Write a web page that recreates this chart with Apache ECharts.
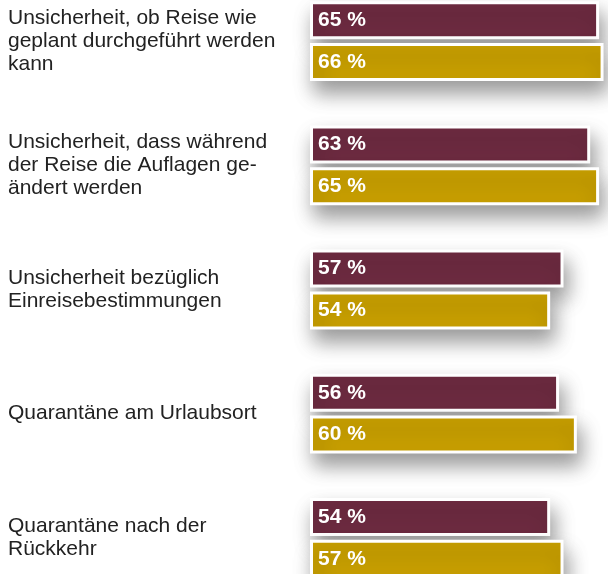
<html>
<head>
    <meta charset="utf-8">
    <title>Unsicherheiten bei Reisen</title>
    <script src="https://cdn.jsdelivr.net/npm/echarts@6/dist/echarts.min.js"></script>
    <style>
        body { margin: 0; background: #fff; overflow: hidden; }
        /* Diagramm ragt oben/unten leicht über das Fenster hinaus */
        #main { position: absolute; left: 0; top: -21px; width: 608px; height: 621px; }
    </style>
</head>
<body>
    <div id="main"></div>
    <script type="text/javascript">
        var categories = [
            'Unsicherheit, ob Reise wie\ngeplant durchgeführt werden\nkann',
            'Unsicherheit, dass während\nder Reise die Auflagen ge-\nändert werden',
            'Unsicherheit bezüglich\nEinreisebestimmungen',
            'Quarantäne am Urlaubsort',
            'Quarantäne nach der\nRückkehr'
        ];
        var seriesA = [65, 63, 57, 56, 54];   // weinrot
        var seriesB = [66, 65, 54, 60, 57];   // gold

        var myChart = echarts.init(document.getElementById('main'));

        function barSeries(name, data, color) {
            return {
                name: name,
                type: 'bar',
                data: data,
                barWidth: 38,
                barGap: '10%',
                itemStyle: {
                    color: color,
                    borderColor: '#fff',
                    borderWidth: 3,
                    shadowColor: 'rgba(0,0,0,0.4)',
                    shadowBlur: 20,
                    shadowOffsetX: 4,
                    shadowOffsetY: 12
                },
                label: {
                    show: true,
                    position: 'insideLeft',
                    distance: 8,
                    formatter: '{c} %',
                    color: '#fff',
                    fontSize: 21,
                    fontWeight: 'bold',
                    fontFamily: 'Liberation Sans'
                }
            };
        }

        var option = {
            animation: false,
            backgroundColor: '#fff',
            grid: { left: 310, right: 0, top: 0, bottom: 0 },
            xAxis: {
                type: 'value',
                min: 0,
                max: 67,
                show: false
            },
            yAxis: {
                type: 'category',
                inverse: true,
                data: categories,
                axisLine: { show: false },
                axisTick: { show: false },
                axisLabel: {
                    align: 'left',
                    margin: 302,
                    color: '#222',
                    fontSize: 21,
                    lineHeight: 23,
                    fontFamily: 'Liberation Sans'
                }
            },
            series: [
                barSeries('A', seriesA, '#6e2b41'),
                barSeries('B', seriesB, '#c9a000')
            ]
        };
        myChart.setOption(option);
    </script>
</body>
</html>
